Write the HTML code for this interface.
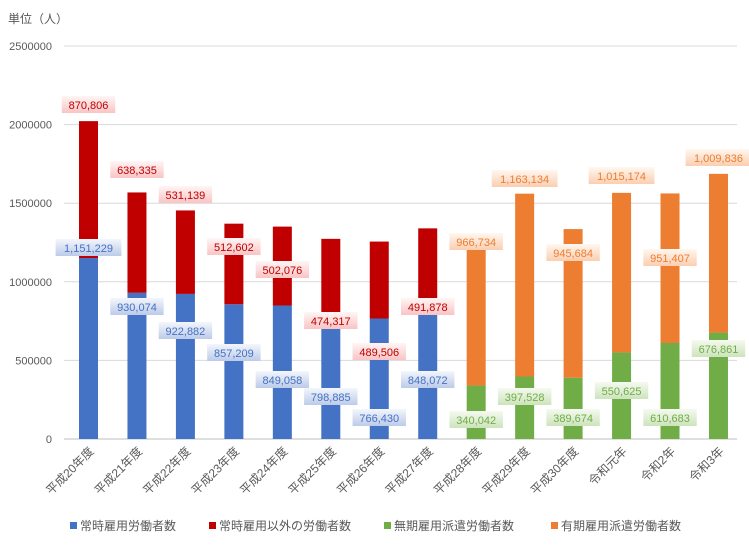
<!DOCTYPE html>
<html><head><meta charset="utf-8"><style>
body{margin:0;background:#fff;}
svg text{font-family:"Liberation Sans","Noto Sans CJK JP",sans-serif;}
</style></head><body>
<svg id="c" width="749" height="543" viewBox="0 0 749 543" xmlns="http://www.w3.org/2000/svg">
<defs>
<linearGradient id="gr" x1="0" y1="0" x2="0" y2="1"><stop offset="0" stop-color="#fff5f5"/><stop offset="1" stop-color="#f9c4c4"/></linearGradient>
<linearGradient id="gb" x1="0" y1="0" x2="0" y2="1"><stop offset="0" stop-color="#f3f6fc"/><stop offset="1" stop-color="#bccbe9"/></linearGradient>
<linearGradient id="gg" x1="0" y1="0" x2="0" y2="1"><stop offset="0" stop-color="#f5faf0"/><stop offset="1" stop-color="#cde3bc"/></linearGradient>
<linearGradient id="go" x1="0" y1="0" x2="0" y2="1"><stop offset="0" stop-color="#fff7f0"/><stop offset="1" stop-color="#fbceb0"/></linearGradient>
</defs>
<text x="8" y="23" font-size="12" fill="#595959">単位（人）</text>
<g id="grid"></g><g id="bars"></g><g id="labels"></g><g id="xl"></g>
<g font-size="12" fill="#595959">
<g><rect x="70" y="522" width="7" height="7" fill="#4472c4"/><text x="80" y="530">常時雇用労働者数</text></g>
<g><rect x="209" y="522" width="7" height="7" fill="#c00000"/><text x="219" y="530">常時雇用以外の労働者数</text></g>
<g><rect x="384" y="522" width="7" height="7" fill="#70ad47"/><text x="394" y="530">無期雇用派遣労働者数</text></g>
<g><rect x="551" y="522" width="7" height="7" fill="#ed7d31"/><text x="561" y="530">有期雇用派遣労働者数</text></g>
</g>
</svg>
<script>
const categories=["平成20年度","平成21年度","平成22年度","平成23年度","平成24年度","平成25年度","平成26年度","平成27年度","平成28年度","平成29年度","平成30年度","令和元年","令和2年","令和3年"];
const bottomValues=[1151229,930074,922882,857209,849058,798885,766430,848072,340042,397528,389674,550625,610683,676861];
const topValues=[870806,638335,531139,512602,502076,474317,489506,491878,966734,1163134,945684,1015174,951407,1009836];
const yTicks=[0,500000,1000000,1500000,2000000,2500000];
// layout: label vertical positions (px) as placed in the original
const topLabelY=[105,170,195,247,270,321,352,307,242,179,253,176,258,158];
const botLabelY=[248,307,331,353,380,397,418,380,420,397,418,391,418,349];
const NS="http://www.w3.org/2000/svg";
const y=v=>439-v/2500000*393;
const x=i=>88.5+i*48.46;
function mk(t,a,p){const e=document.createElementNS(NS,t);for(const k in a)e.setAttribute(k,a[k]);p.appendChild(e);return e;}
const grid=document.getElementById('grid');
yTicks.forEach(v=>{
 const l=mk('line',{x1:64,x2:737,y1:y(v),y2:y(v),stroke:v===0?'#bfbfbf':'#d9d9d9','stroke-width':1},grid);
 
 
 const t=mk('text',{x:52,y:y(v)+4,'text-anchor':'end','font-size':11,fill:'#595959'},grid);
 t.textContent=v;
 
 
});
const bars=document.getElementById('bars'),labs=document.getElementById('labels'),xl=document.getElementById('xl');
const fmt=n=>n.toLocaleString('en-US');
function label(cx,cy,val,fill,color){
 const w=fmt(val).length*6.2+10;
 const g=mk('g',{},labs);
 
 
 mk('rect',{x:cx-w/2,y:cy-9,width:w,height:17,fill:fill},g);
 const t=mk('text',{x:cx,y:cy+4,'text-anchor':'middle','font-size':11,fill:color},g);
 t.textContent=fmt(val);
}
categories.forEach((c,i)=>{
 const cx=x(i),w=19,g=i>=8;
 const b=mk('rect',{x:cx-w/2,y:y(bottomValues[i]),width:w,height:439-y(bottomValues[i]),fill:g?'#70ad47':'#4472c4'},bars);
 
 
 const tp=mk('rect',{x:cx-w/2,y:y(bottomValues[i]+topValues[i]),width:w,height:y(bottomValues[i])-y(bottomValues[i]+topValues[i]),fill:g?'#ed7d31':'#c00000'},bars);
 
 
 label(cx,topLabelY[i],topValues[i],g?'url(#go)':'url(#gr)',g?'#ed7d31':'#c00000');
 label(cx,botLabelY[i],bottomValues[i],g?'url(#gg)':'url(#gb)',g?'#70ad47':'#4472c4');
 const t=mk('text',{x:cx+6,y:452,'text-anchor':'end','font-size':12,fill:'#595959',transform:`rotate(-45 ${cx+6} 452)`},xl);
 t.textContent=c;
 
 
});
</script>
</body></html>
